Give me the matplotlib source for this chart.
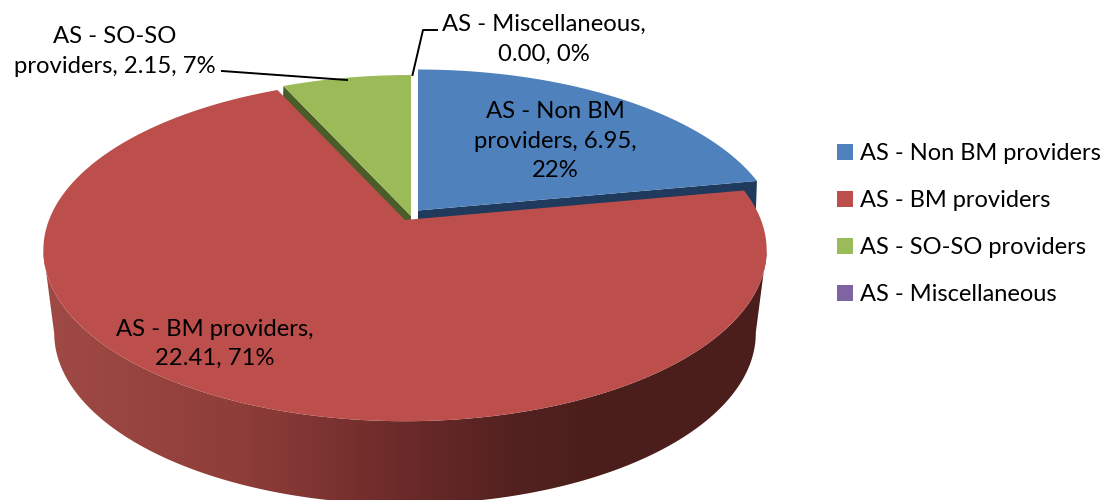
import numpy as np
import matplotlib
matplotlib.use('Agg')
import matplotlib.pyplot as plt
from matplotlib.colors import LinearSegmentedColormap
from matplotlib.patches import Patch, Polygon

plt.rcParams['font.family'] = ['Lato', 'DejaVu Sans']

categories = ['AS - Non BM providers', 'AS - BM providers', 'AS - SO-SO providers', 'AS - Miscellaneous']
values = [6.95, 22.41, 2.15, 0.00]
colors = ['#4F81BD', '#BC4E4B', '#9BBB59', '#8064A2']
label_texts = ['AS - Non BM\nproviders, 6.95,\n22%',
               'AS - BM providers,\n22.41, 71%',
               'AS - SO-SO\nproviders, 2.15, 7%',
               'AS - Miscellaneous,\n0.00, 0%']

# pie tip of every slice (exploded a little), in pixels
tips = [(418, 210.5), (405, 220), (411, 216), (411, 216)]
label_pos = [(555, 141), (215, 344), (115, 51.5), (544, 39.5)]

# perspective of the tilted disc
K_X, K_Y, PERSP = 356.0, 165.8, 0.176
DEPTH = 83
BOTTOM_X = 0.97


def project(theta, tip, depth=0, sx=1.0):
    big_x, big_y = np.sin(theta), np.cos(theta)
    s = 1 / (1 + PERSP * big_y)
    return np.column_stack([tip[0] + sx * K_X * big_x * s,
                            tip[1] + depth - K_Y * big_y * s])


fig = plt.figure(figsize=(11.06, 5), dpi=100)
ax = fig.add_axes([0, 0, 1, 1])
ax.set_xlim(0, 1106)
ax.set_ylim(500, 0)
ax.axis('off')

shares = np.array(values) / sum(values)
ends = np.cumsum(shares) * 2 * np.pi
starts = ends - shares * 2 * np.pi

# cut walls of blue and green sit behind the red slice
for i, cut, dark in [(0, ends[0], '#1F3A5C'), (2, starts[2], '#4A5C28')]:
    tip = np.array(tips[i], dtype=float)
    rim = project(np.array([cut]), tips[i])[0]
    ax.add_patch(Polygon([tip, rim, rim + [-3, DEPTH], tip + [0, DEPTH]], fc=dark, ec='none', zorder=1))

# red outer wall with the horizontal shading, front half between the side extremes
t = np.linspace(starts[1], ends[1], 400)
top_arc = project(t, tips[1])
low_arc = project(t, tips[1], DEPTH, BOTTOM_X)
a, b = top_arc[:, 0].argmax(), top_arc[:, 0].argmin()
c, d = low_arc[:, 0].argmax(), low_arc[:, 0].argmin()
wall = np.vstack([top_arc[a:b + 1], low_arc[c:d + 1][::-1]])
shade = LinearSegmentedColormap.from_list('wall', [(0, '#A04A45'), (0.28, '#8E3D39'), (0.5, '#6B2A29'),
                                                   (0.65, '#532220'), (0.75, '#4B1E1C'), (1, '#4B1E1C')])
img = ax.imshow(np.linspace(0, 1, 512)[None, :], cmap=shade, extent=(42, 767, 505, 0), aspect='auto', zorder=2)
clip = Polygon(wall, transform=ax.transData, fc='none', ec='none')
ax.add_patch(clip)
img.set_clip_path(clip)
ax.set_xlim(0, 1106)
ax.set_ylim(500, 0)

# top faces
for i in [0, 2, 3, 1]:
    t = np.linspace(starts[i], ends[i], 200)
    ax.add_patch(Polygon(np.vstack([tips[i], project(t, tips[i])]), fc=colors[i], ec='none', zorder=3))

# leader lines
ax.plot([222, 347], [71, 80], color='black', lw=1.4, zorder=4)
ax.plot([412.5, 423, 437], [75, 30, 30], color='black', lw=1.4, zorder=4)

for txt, (x, y) in zip(label_texts, label_pos):
    ax.text(x, y, txt, ha='center', va='center', fontsize=17.2, color='black', linespacing=1.5, zorder=5)

handles = [Patch(fc=c, ec='none') for c in colors]
ax.legend(handles, categories, loc='center left', bbox_to_anchor=(816 / 1106, 1 - 224 / 500), frameon=False,
          fontsize=17, handlelength=0.68, handleheight=0.65, handletextpad=0.3, labelspacing=1.1,
          labelcolor='black')

fig.savefig('out.png', dpi=100)
plt.close(fig)
